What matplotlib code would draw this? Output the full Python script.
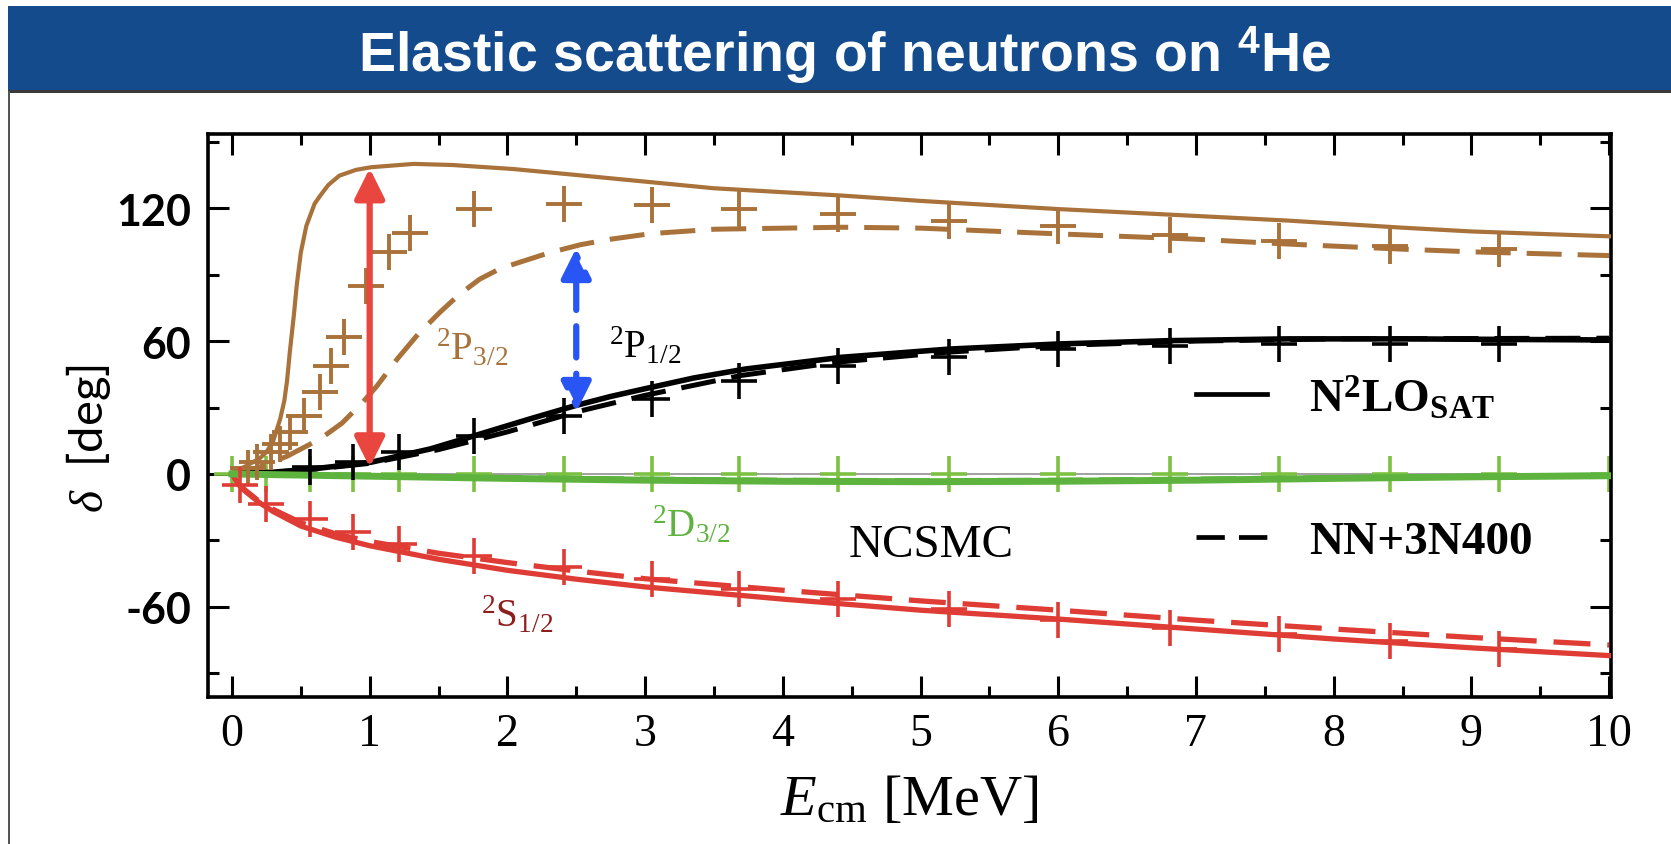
import matplotlib.pyplot as plt
from matplotlib.lines import Line2D
from matplotlib.patches import Rectangle
from matplotlib.ticker import MultipleLocator

plt.rcParams['mathtext.fontset'] = 'custom'
plt.rcParams['mathtext.rm'] = 'Liberation Serif'
plt.rcParams['mathtext.it'] = 'Liberation Serif:italic'
plt.rcParams['mathtext.bf'] = 'Liberation Serif:bold'
plt.rcParams['mathtext.sf'] = 'Liberation Sans:bold'
plt.rcParams['axes.unicode_minus'] = False

# ---- data ----
# 2P3/2
e_p32_sat = [0, 0.03, 0.1, 0.2, 0.25, 0.3, 0.35, 0.38, 0.4, 0.42, 0.45, 0.47, 0.5, 0.54, 0.6,
             0.64, 0.7, 0.78, 0.9, 1.01, 1.32, 1.6, 2.04, 2.5, 3.0, 3.5, 4.43, 5.0, 6.0, 7.0,
             7.67, 8.5, 9.0, 10.0]
d_p32_sat = [0, 1.5, 3.5, 7, 9.8, 15, 24.8, 33, 42, 55, 72, 85, 100, 112, 122,
             125.6, 130.5, 134.7, 137.3, 138.5, 140, 139.5, 137.7, 135, 132, 129, 125.7, 123.3, 119.6, 116.5,
             114.4, 111.2, 109.5, 107.3]
e_p32_nn = [0, 0.1, 0.23, 0.4, 0.64, 0.8, 0.95, 1.05, 1.2, 1.35, 1.51, 1.65, 1.8, 1.95, 2.16,
            2.3, 2.53, 2.75, 3.04, 3.5, 4.43, 5.0, 6.0, 7.0, 7.67, 8.5, 9.0, 10.0]
d_p32_nn = [0, 1, 3.8, 8, 15.8, 23, 32.4, 39.5, 51.9, 63, 73, 81, 88, 92.8, 97,
            99.8, 103.5, 106, 108.5, 110.5, 111.4, 111, 108.4, 106, 103.8, 101.5, 100.3, 98.6]
e_p32_exp = [0.12, 0.18, 0.28, 0.35, 0.42, 0.52, 0.64, 0.72, 0.81, 0.97, 1.14, 1.29, 1.76, 2.41,
             3.05, 3.68, 4.40, 5.21, 6.0, 6.81, 7.60, 8.41, 9.2]
d_p32_exp = [2.5, 5.3, 9.8, 13.5, 18.8, 26.3, 36.9, 48.9, 61.7, 85, 100, 109, 119.6, 121.9,
             121.4, 119.6, 117.4, 114.4, 111.8, 107.9, 105.3, 103.1, 101.6]

# 2P1/2
e_p12_sat = [0, 0.3, 0.59, 1.01, 1.44, 1.8, 2.16, 2.49, 2.75, 3.0, 3.35, 3.73, 4.43, 5.21, 6.0,
             6.81, 7.67, 8.5, 10.0]
d_p12_sat = [0, 0.8, 2.3, 5.3, 11.3, 18, 24.8, 30.8, 35, 38.5, 43.3, 47.4, 52.7, 56.4, 58.7,
             60.2, 61, 61, 60.5]
e_p12_nn = [0, 0.5, 1.0, 1.5, 2.0, 2.5, 3.0, 3.7, 4.4, 5.2, 6.0, 7.0, 8.0, 10.0]
d_p12_nn = [0, 1.5, 4.8, 11, 19, 28, 35.5, 44.5, 50.5, 55, 58, 60, 61, 61.3]

# common experimental energies for 2P1/2, 2S1/2, 2D3/2
e_exp = [0.57, 0.88, 1.21, 1.76, 2.41, 3.05, 3.68, 4.40, 5.21, 6.0, 6.81, 7.60, 8.41, 9.2]
d_p12_exp = [3, 5.5, 9.8, 17.3, 26.3, 33.9, 42.1, 48.9, 52.7, 56.4, 57.9, 58.7, 58.7, 58.7]

# 2S1/2
e_s12 = [0, 0.05, 0.1, 0.2, 0.3, 0.5, 0.75, 1.0, 1.5, 2.0, 2.5, 3.0, 4.0, 5.0, 6.0, 7.0, 8.0, 9.0, 10.0]
d_s12_sat = [0, -5, -8, -13, -17, -23.5, -28.5, -32.4, -38.5, -43.5, -47.5, -51, -56.5, -61.5,
             -65.5, -70, -74.5, -78.5, -82]
d_s12_nn = [0, -4.5, -7.5, -12.5, -16, -22, -27, -30.5, -35.8, -40, -43.8, -47.3, -52.5, -57.3,
            -61.5, -66, -70, -73.8, -77.2]
e_s12_exp = [0.06, 0.25] + e_exp
d_s12_exp = [-5, -13.5, -20.3, -26.3, -31.6, -36.9, -42.1, -47.4, -51.9, -56.3, -61, -66, -69.5,
             -72.2, -75.3, -79]

# 2D3/2
e_d32 = [0, 0.5, 1, 2, 3, 4, 5, 6, 7, 8, 9, 10]
d_d32_sat = [0, -0.5, -1, -2, -2.8, -3.3, -3.5, -3.3, -2.8, -2, -1.3, -0.8]
d_d32_nn = [0, -0.4, -0.8, -1.6, -2.3, -2.8, -3, -2.8, -2.3, -1.6, -1, -0.5]
e_d32_exp = [0.0, 0.25] + e_exp + [10.0]
d_d32_exp = [0] * len(e_d32_exp)

# arrows (E, delta from, delta to)
red_arrow = (1.0, 3, 138)
blue_arrow = (2.5, 28, 102)

brown = '#A8723A'
red = '#DE3C34'
green = '#5DB33E'
green_x = '#7DC143'

fig = plt.figure(figsize=(16.71, 8.45), dpi=100)

# slide header band
fig.patches.append(Rectangle((8 / 1671, 1 - 92 / 845), 1, 85 / 845, transform=fig.transFigure,
                             facecolor='#134B8D', edgecolor='none'))
fig.patches.append(Rectangle((8 / 1671, 1 - 94 / 845), 1, 3 / 845, transform=fig.transFigure,
                             facecolor='#3A3A3A', edgecolor='none'))
fig.patches.append(Rectangle((8 / 1671, 0), 2 / 1671, 1 - 92 / 845, transform=fig.transFigure,
                             facecolor='#555555', edgecolor='none'))
fig.text(0.5055, 1 - 72 / 845, r'Elastic scattering of neutrons on $^{\mathsf{4}}\mathsf{He}$',
         color='white', fontsize=40, fontweight='bold', ha='center', va='baseline',
         family='Liberation Sans')

ax = fig.add_axes([208 / 1671, 1 - 698 / 845, 1403 / 1671, 563 / 845])
ax.axhline(0, color='#9a9a9a', lw=1.3, zorder=1)

dash = (0, (7, 3.2))
ax.plot(e_p32_sat, d_p32_sat, color=brown, lw=3.0, zorder=3)
ax.plot(e_p32_nn, d_p32_nn, color=brown, lw=3.6, ls=dash, zorder=3)
ax.plot(e_p12_sat, d_p12_sat, color='black', lw=4.0, zorder=3)
ax.plot(e_p12_nn, d_p12_nn, color='black', lw=3.6, ls=dash, zorder=3)
ax.plot(e_s12, d_s12_sat, color=red, lw=3.8, zorder=3)
ax.plot(e_s12, d_s12_nn, color=red, lw=3.8, ls=dash, zorder=3)
ax.plot(e_d32, d_d32_nn, color=green, lw=3.6, ls=dash, zorder=3)
ax.plot(e_d32, d_d32_sat, color=green, lw=5.0, zorder=3)

ms = 26
ax.plot(e_p32_exp, d_p32_exp, '+', color=brown, ms=ms, mew=2.8, zorder=4)
ax.plot(e_exp, d_p12_exp, '+', color='black', ms=ms, mew=2.6, zorder=4)
ax.plot(e_s12_exp, d_s12_exp, '+', color=red, ms=ms, mew=2.6, zorder=4)
ax.plot(e_d32_exp, d_d32_exp, '+', color=green_x, ms=ms, mew=2.6, zorder=2)

ax.annotate('', xy=(red_arrow[0], red_arrow[2]), xytext=(red_arrow[0], red_arrow[1]),
            arrowprops=dict(arrowstyle='<|-|>', color='#E8463E', lw=4.5, mutation_scale=45,
                            shrinkA=0, shrinkB=0), zorder=5)
ax.annotate('', xy=(blue_arrow[0], blue_arrow[2]), xytext=(blue_arrow[0], blue_arrow[1]),
            arrowprops=dict(arrowstyle='<|-|>', color='#2A55F5', lw=4.5, mutation_scale=45,
                            shrinkA=0, shrinkB=0, linestyle=(0, (5, 2.6))), zorder=5)

lab = dict(fontsize=28, family='Liberation Serif', va='center', ha='left')
ax.text(1.48, 57, r'$^2\mathrm{P}_{3/2}$', color=brown, **lab)
ax.text(2.74, 58, r'$^2\mathrm{P}_{1/2}$', color='black', **lab)
ax.text(3.05, -23, r'$^2\mathrm{D}_{3/2}$', color=green, **lab)
ax.text(1.81, -63.5, r'$^2\mathrm{S}_{1/2}$', color='#8E1E1E', **lab)
ax.text(5.08, -32, 'NCSMC', fontsize=34, family='Liberation Serif', ha='center', va='center')

handles = [Line2D([], [], color='black', lw=3.4),
           Line2D([], [], color='black', lw=3.4, ls=(0, (6, 3)))]
leg = ax.legend(handles, [r'$\mathbf{N^{2}LO_{SAT}}$', 'NN+3N400'], loc='center left',
                bbox_to_anchor=(0.704, 0.406), frameon=False, borderpad=0, borderaxespad=0,
                handlelength=1.5, handletextpad=0.9, labelspacing=2.1,
                prop=dict(family='Liberation Serif', weight='bold', size=34))

ax.set_xlim(-0.174, 10.014)
ax.set_ylim(-100.7, 153.5)
ax.xaxis.set_major_locator(MultipleLocator(1))
ax.xaxis.set_minor_locator(MultipleLocator(0.5))
ax.yaxis.set_major_locator(MultipleLocator(60))
ax.yaxis.set_minor_locator(MultipleLocator(30))
ax.tick_params(which='both', direction='in', top=True, right=True, width=2.2)
ax.tick_params(which='major', length=15)
ax.tick_params(which='minor', length=8)
ax.tick_params(axis='x', pad=11, labelsize=33)
ax.tick_params(axis='y', pad=12, labelsize=31)
for t in ax.get_xticklabels():
    t.set_family('Liberation Serif')
for t in ax.get_yticklabels():
    t.set_family('Lato')
    t.set_weight('bold')
for s in ax.spines.values():
    s.set_linewidth(2.6)

ax.set_xlabel(r'$E_{\mathrm{cm}}$ [MeV]', fontsize=42, family='Liberation Serif', labelpad=14)
ax.set_ylabel(r'$\delta$  [deg]', fontsize=34, family='Lato')
ax.yaxis.set_label_coords(-0.068, 0.46)

fig.savefig('out.png', dpi=100)
